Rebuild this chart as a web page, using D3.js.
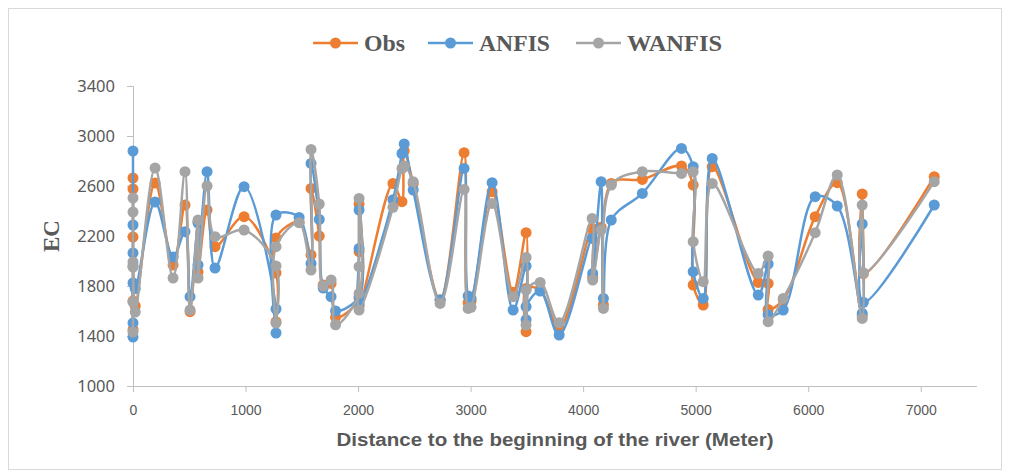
<!DOCTYPE html>
<html><head><meta charset="utf-8">
<script src="https://cdn.jsdelivr.net/npm/d3@7"></script>
<style>
html,body{margin:0;padding:0;background:#fff;}
svg{display:block;}
</style></head>
<body>
<svg id="chart" width="1010" height="475"></svg>
<script>
const distance = [0,0,0,0,0,0,20,196,356,462,507,578,578,658,729,987,1271,1271,1271,1476,1582,1582,1655,1690,1760,1800,2009,2009,2009,2009,2310,2390,2410,2490,2729,2942,2978,3004,3191,3378,3493,3493,3493,3618,3787,4080,4085,4160,4180,4250,4526,4874,4978,4978,5067,5147,5556,5644,5644,5778,6062,6258,6480,6480,6490,7120];
const obs = [2192,2664,1450,2576,1680,1960,1640,2624,1968,2448,1595,2315,1912,2408,2115,2355,1904,1515,2184,2310,2048,2581,2200,1808,1821,1550,1700,2456,2075,1640,2620,2475,2880,2620,1690,2867,1667,1680,2555,1750,2227,1435,1780,1770,1460,2261,1870,2270,1650,2620,2653,2760,2608,1808,1648,2755,1829,1821,1613,1690,2355,2627,1560,2536,1900,2675];
const anfis = [2064,2880,1392,2288,1504,1824,1780,2472,2032,2235,1715,2304,1968,2715,1944,2595,1616,1424,2368,2349,1980,2781,2333,1784,1715,1600,1717,2408,2101,1660,2490,2860,2936,2568,1688,2741,1720,1700,2627,1608,1960,1530,1635,1760,1408,2181,1901,2635,1701,2328,2541,2901,2755,1915,1701,2821,1728,1976,1570,1608,2515,2440,1580,2296,1670,2448];
const wanfis = [1992,2504,1432,2392,1672,1952,1592,2744,1864,2715,1608,2328,1864,2600,2195,2248,1960,1504,2115,2307,1928,2893,2456,1800,1848,1490,1741,2501,1955,1608,2430,2740,2760,2635,1661,2573,1621,1630,2461,1715,2029,1488,1768,1829,1507,2341,1848,2248,1621,2608,2715,2701,2715,2155,1835,2621,1901,2040,1515,1701,2227,2688,1541,2448,1906,2635];
const seriesNames = ["Obs","ANFIS","WANFIS"];
const seriesColors = ["#ED7D31","#5B9BD5","#A5A5A5"];
const xTicks = [0,1000,2000,3000,4000,5000,6000,7000];
const yTicks = [1000,1400,1800,2200,2600,3000,3400];

const svg = d3.select("#chart");
// outer border
svg.append("rect").attr("x",8.5).attr("y",8.5).attr("width",993).attr("height",461)
  .attr("fill","#fff").attr("stroke","#d9d9d9").attr("stroke-width",1);

const x = d3.scaleLinear().domain([0,7500]).range([133,977]);
const y = d3.scaleLinear().domain([1000,3400]).range([386,86]);

// y axis
const yAxis = d3.axisLeft(y).tickValues(yTicks).tickSize(6).tickPadding(12).tickFormat(d3.format("d"));
const gy = svg.append("g").attr("transform","translate(133,0)").call(yAxis);
gy.select(".domain").attr("stroke","#bfbfbf").attr("d","M-6,86.5H0.5V386.5");
gy.selectAll(".tick line").attr("stroke","#bfbfbf");
gy.selectAll(".tick text").attr("fill","#595959").style("font-family","'Noto Sans', 'Open Sans', sans-serif").style("font-size","16.5px");

// x axis
const xAxis = d3.axisBottom(x).tickValues(xTicks).tickSize(6).tickPadding(13).tickFormat(d3.format("d"));
const gx = svg.append("g").attr("transform","translate(0,386)").call(xAxis);
gx.select(".domain").attr("stroke","#bfbfbf").attr("d","M133,0.5H977");
gx.selectAll(".tick line").attr("stroke","#bfbfbf");
gx.selectAll(".tick text").attr("fill","#595959").style("font-family","'Liberation Sans Narrow', 'Liberation Sans', sans-serif").style("font-size","14px");

// axis titles
svg.append("text").attr("x",555).attr("y",446).attr("text-anchor","middle")
  .attr("fill","#595959").style("font-family","'Liberation Sans Narrow', 'Liberation Sans', sans-serif")
  .style("font-size","18px").style("font-weight","bold")
  .attr("textLength",437).attr("lengthAdjust","spacingAndGlyphs")
  .text("Distance to the beginning of the river (Meter)");
svg.append("text").attr("transform","translate(59,236) rotate(-90)").attr("text-anchor","middle")
  .attr("fill","#595959").style("font-family","'Liberation Serif', 'Times New Roman', serif")
  .style("font-size","23px").style("font-weight","bold").text("EC");

const dataSets = [obs, anfis, wanfis];
const line = d3.line().x(d=>x(d[0])).y(d=>y(d[1])).curve(d3.curveCatmullRom.alpha(0.5));

dataSets.forEach((vals,i)=>{
  const pts = distance.map((dv,k)=>[dv, vals[k]]);
  const g = svg.append("g");
  g.append("path").datum(pts).attr("d",line).attr("fill","none")
    .attr("stroke",seriesColors[i]).attr("stroke-width",2.5).attr("stroke-linejoin","round");
  g.selectAll("circle").data(pts).join("circle")
    .attr("cx",d=>x(d[0])).attr("cy",d=>y(d[1])).attr("r",5.5)
    .attr("fill",seriesColors[i]);
});

// legend
const legendX = [313, 428, 576];
const legendW = [41, 71, 95];
seriesNames.forEach((n,i)=>{
  const g = svg.append("g").attr("transform",`translate(${legendX[i]},43)`);
  g.append("line").attr("x1",0).attr("x2",45).attr("y1",0).attr("y2",0)
    .attr("stroke",seriesColors[i]).attr("stroke-width",2.5);
  g.append("circle").attr("cx",22.5).attr("cy",0).attr("r",5.5).attr("fill",seriesColors[i]);
  g.append("text").attr("x",51).attr("y",8).attr("fill","#595959")
    .style("font-family","'Liberation Serif', 'Times New Roman', serif")
    .style("font-size","23px").style("font-weight","bold")
    .attr("textLength",legendW[i]).attr("lengthAdjust","spacingAndGlyphs").text(n);
});
</script>
</body></html>
